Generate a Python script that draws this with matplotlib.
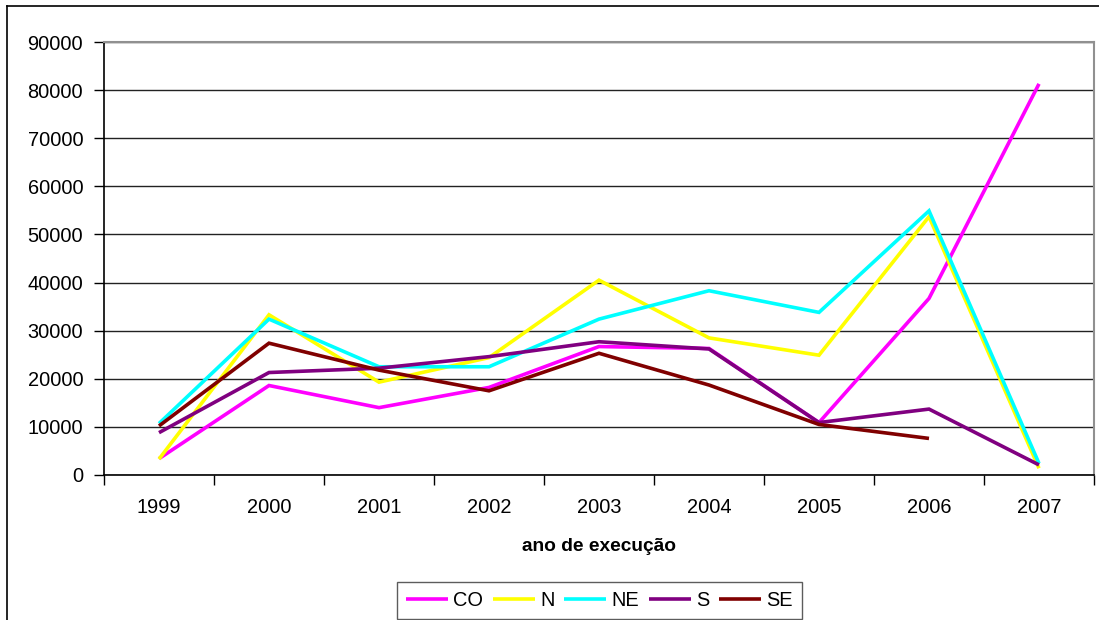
import numpy as np
import matplotlib
matplotlib.use("Agg")
import matplotlib.pyplot as plt
from matplotlib.lines import Line2D

plt.rcParams['font.family'] = ['Liberation Sans', 'DejaVu Sans']

years = ["1999", "2000", "2001", "2002", "2003", "2004", "2005", "2006", "2007"]
co = [3400, 18600, 14000, 18200, 26700, 26300, 10900, 36700, 81300]
n = [3300, 33300, 19300, 24400, 40500, 28500, 24900, 53700, 1400]
ne = [10700, 32400, 22500, 22500, 32400, 38300, 33800, 54900, 2400]
s = [8800, 21300, 22200, 24600, 27700, 26200, 10900, 13700, 2100]
se = [10200, 27400, 21800, 17500, 25300, 18700, 10500, 7600, np.nan]

series = [("CO", co, "#FF00FF"), ("N", n, "#FFFF00"), ("NE", ne, "#00FFFF"),
          ("S", s, "#800080"), ("SE", se, "#800000")]

W, H = 1099, 620
fig = plt.figure(figsize=(W / 100, H / 100), dpi=100)
ax = fig.add_axes([104 / W, 1 - 475 / H, 990 / W, 433 / H])

x = np.arange(len(years))
for name, vals, col in series:
    ax.plot(x, vals, color=col, lw=2.6, label=name, solid_capstyle='butt',
            solid_joinstyle='miter')

ax.set_xlim(-0.5, len(years) - 0.5)
ax.set_ylim(0, 90000)
ax.set_yticks(np.arange(0, 90001, 10000))
ax.yaxis.grid(True, color='#222222', lw=1)
ax.set_axisbelow(True)

ax.set_xticks(np.arange(-0.5, len(years), 1.0))
ax.set_xticklabels([])
ax.set_xticks(x, minor=True)
ax.set_xticklabels(years, minor=True)
ax.tick_params(axis='x', which='major', length=7, width=1, color='black', direction='out')
ax.tick_params(axis='x', which='minor', length=0, pad=16.5, labelsize=14.4)
ax.tick_params(axis='y', length=7, width=1, color='black', direction='out', pad=8,
               labelsize=14.4)

for side in ('top', 'right'):
    ax.spines[side].set_color('#909090')
    ax.spines[side].set_linewidth(1.5)
for side in ('left', 'bottom'):
    ax.spines[side].set_color('black')
    ax.spines[side].set_linewidth(1.2)

ax.set_xlabel("ano de execução", fontsize=13.8, fontweight='bold', labelpad=15)

# outer chart border
fig.add_artist(Line2D([7 / W, 7 / W], [0, 1 - 6 / H], transform=fig.transFigure,
                      color='black', lw=1.2))
fig.add_artist(Line2D([7 / W, 1], [1 - 6 / H, 1 - 6 / H], transform=fig.transFigure,
                      color='black', lw=1.2))

leg = fig.legend(loc='upper left', bbox_to_anchor=(397 / W, 1 - 582 / H), ncol=5,
                 fontsize=14.4, frameon=True, fancybox=False, edgecolor='#333333',
                 handlelength=2.1, handletextpad=0.25, columnspacing=0.5,
                 borderpad=0.45, borderaxespad=0)
leg.get_frame().set_linewidth(1.0)

fig.savefig("out.png", dpi=100)
